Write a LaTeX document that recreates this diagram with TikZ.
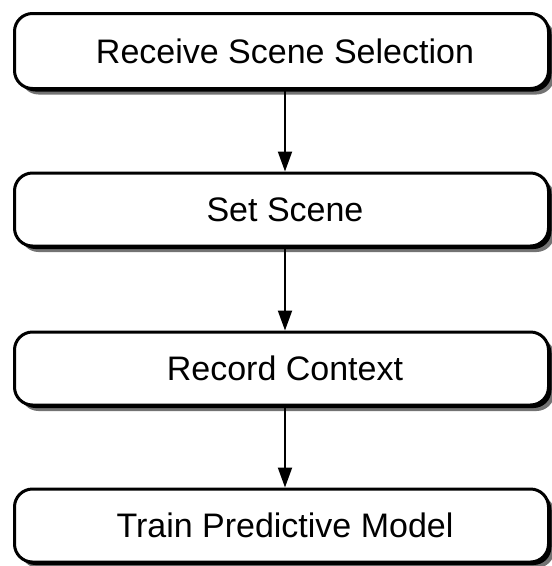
\documentclass[tikz,border=0pt]{standalone}
\usepackage{fontspec}
\setmainfont{Liberation Sans}
\usetikzlibrary{arrows.meta,shadows}
\begin{document}
\begin{tikzpicture}[x=1pt,y=-1pt,
  stepbox/.style={rectangle, rounded corners=18pt, draw=black, line width=3pt,
    fill=white, minimum width=534pt, minimum height=73pt, inner sep=0pt,
    font=\fontsize{34}{40}\selectfont,
    general shadow={fill=black!55, shadow xshift=6pt, shadow yshift=-6pt},
    general shadow={fill=black, shadow xshift=3pt, shadow yshift=-3pt}},
  flow/.style={line width=2pt, -{Triangle[width=14pt,length=20pt]}}]
  \useasboundingbox (0,0) rectangle (552,566);
  \clip (0,0) rectangle (552,566);
  \coordinate (axis) at (285,0);
  \node[stepbox, minimum height=75pt] (receive) at (281.5,51) {\hspace*{7pt}Receive Scene Selection};
  \node[stepbox] (setscene) at (281.5,209.5) {\hspace*{7pt}Set Scene};
  \node[stepbox] (record) at (281.5,368.5) {\hspace*{7pt}Record Context};
  \node[stepbox] (train) at (281.5,525.5) {\hspace*{7pt}Train Predictive Model};
  \draw[flow] (receive.south -| axis) -- (setscene.north -| axis);
  \draw[flow] (setscene.south -| axis) -- (record.north -| axis);
  \draw[flow] (record.south -| axis) -- (train.north -| axis);
\end{tikzpicture}
\end{document}
